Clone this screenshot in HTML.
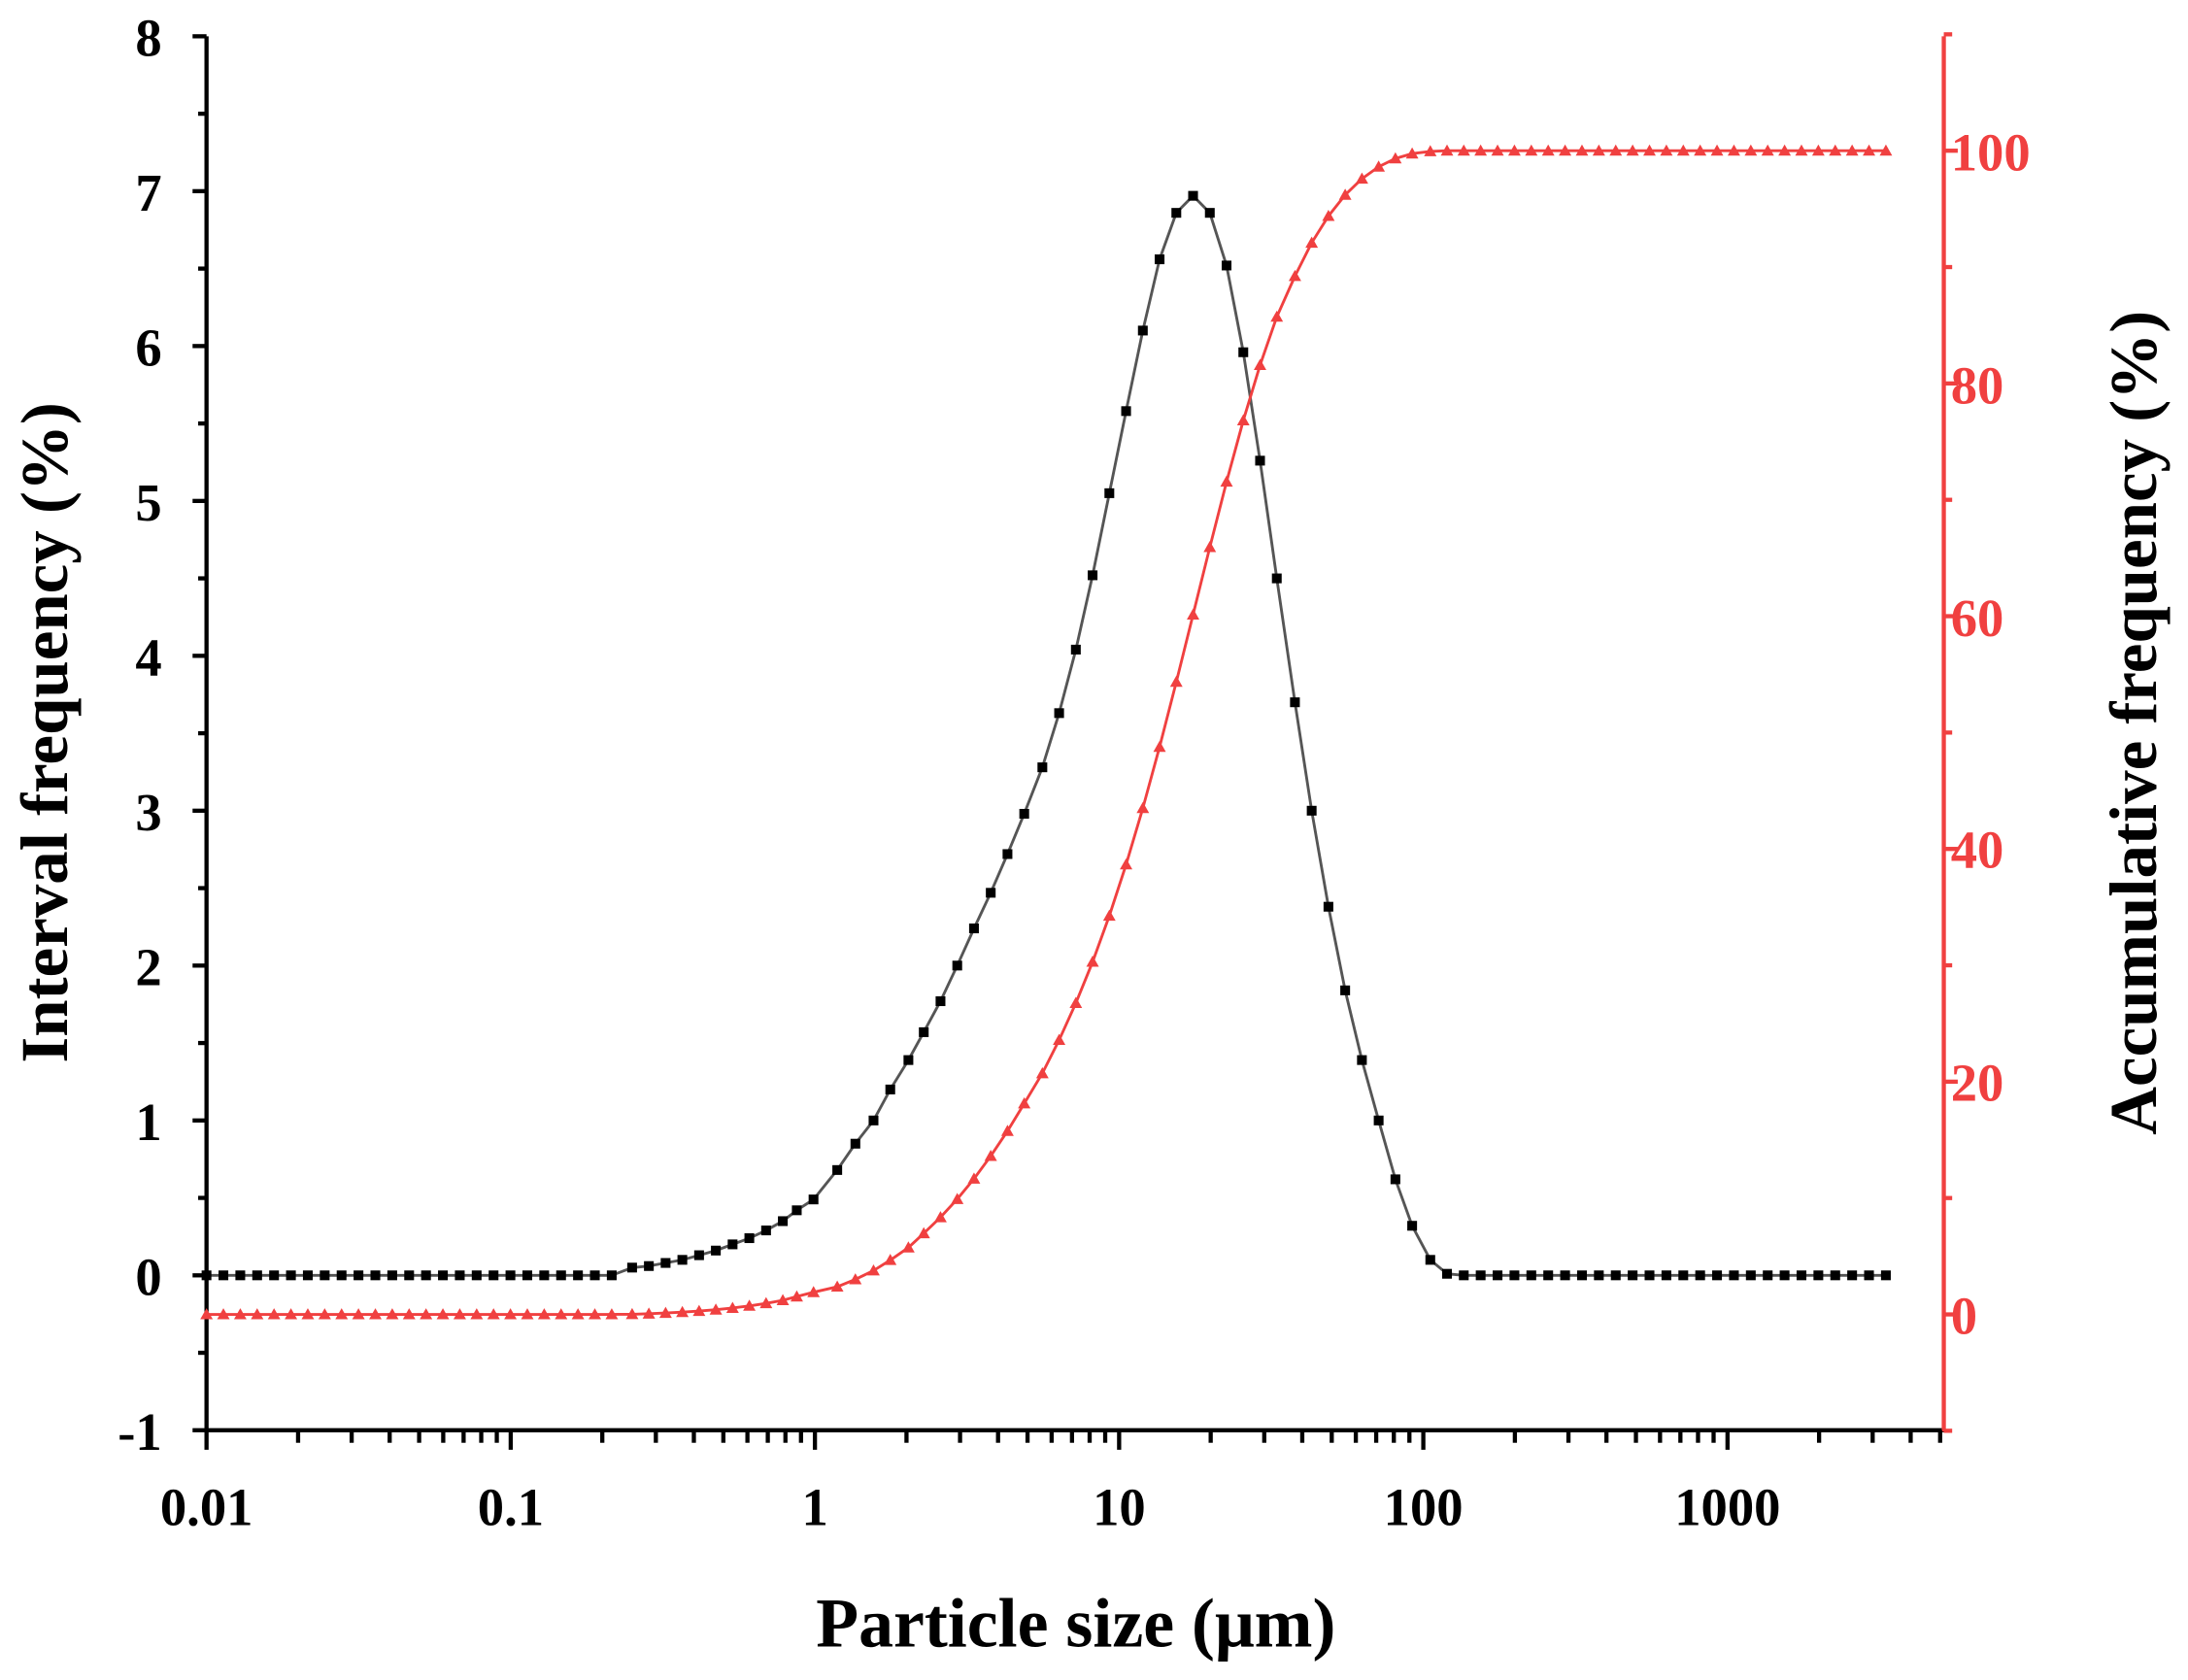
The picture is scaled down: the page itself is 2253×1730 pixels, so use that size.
<!DOCTYPE html>
<html><head><meta charset="utf-8"><style>
html,body{margin:0;padding:0;background:#fff}
svg{display:block}
text{font-family:"Liberation Serif",serif;font-weight:bold}
</style></head><body>
<svg id="s" width="2253" height="1730" viewBox="0 0 1568 1204" xmlns="http://www.w3.org/2000/svg">
<g id="ax" stroke="#000" stroke-width="3" fill="none">
<line x1="148" y1="26" x2="148" y2="1026"/>
<line x1="146.5" y1="1025" x2="1394" y2="1025"/>
</g>
<line x1="1393" y1="26" x2="1393" y2="1026" stroke="#f04040" stroke-width="3"/>
<g id="ticks"></g>
<g font-size="38">
<g text-anchor="end" fill="#000">
<text x="116" y="40">8</text><text x="116" y="151">7</text><text x="116" y="262">6</text><text x="116" y="373">5</text><text x="116" y="484">4</text><text x="116" y="595">3</text><text x="116" y="706">2</text><text x="116" y="817">1</text><text x="116" y="928">0</text><text x="116" y="1039">-1</text>
</g>
<g fill="#f04040">
<text x="1398" y="122">100</text><text x="1398" y="289">80</text><text x="1398" y="456">60</text><text x="1398" y="622">40</text><text x="1398" y="789">20</text><text x="1398" y="956">0</text>
</g>
<g text-anchor="middle">
<text x="148" y="1093">0.01</text><text x="366" y="1093">0.1</text><text x="584" y="1093">1</text><text x="802" y="1093">10</text><text x="1020" y="1093">100</text><text x="1238" y="1093">1000</text>
</g>
</g>
<text x="771" y="1180" font-size="50" text-anchor="middle">Particle size (μm)</text>
<text transform="translate(48,525) rotate(-90)" font-size="48" text-anchor="middle">Interval frequency (%)</text>
<text transform="translate(1545,518) rotate(-90)" font-size="48" text-anchor="middle">Accumulative frequency (%)</text>
<g id="data"></g>
</svg>
<script>
var NS="http://www.w3.org/2000/svg";
function el(t,a,p){var e=document.createElementNS(NS,t);for(var k in a)e.setAttribute(k,a[k]);p.appendChild(e);return e;}
var T=document.getElementById("ticks");
for(var i=0;i<=18;i++){var y=26+i*55.5;var L=(i%2==0)?10:6;el("line",{x1:148-L,y1:y,x2:148,y2:y,stroke:"#000","stroke-width":3},T);}
for(var v=-10;v<=110;v+=10){var y=942-v*8.34;var L=(v%20==0)?10:6;el("line",{x1:1393,y1:y,x2:1393+L,y2:y,stroke:"#f04040","stroke-width":3},T);}
var D=218;
for(var d=-2;d<=3;d++){for(var m=1;m<=9;m++){var x=148+(d+2+Math.log10(m))*D;if(x>1393)break;var L=(m==1)?14:9;el("line",{x1:x,y1:1025,x2:x,y2:1025+L,stroke:"#000","stroke-width":3},T);}}
var K=[[453,0.05],[465,0.06],[477,0.08],[489,0.1],[501,0.13],[513,0.16],[525,0.2],[537,0.24],[549,0.29],[561,0.35],[571,0.42],[583,0.49],[600,0.68],[613,0.85],[626,1.0],[638,1.2],[651,1.39],[662,1.57],[674,1.77],[686,2.0],[698,2.24],[710,2.47],[722,2.72],[734,2.98],[747,3.28],[759,3.63],[771,4.04],[783,4.52],[795,5.05],[807,5.58],[819,6.1],[831,6.56],[843,6.86],[855,6.97],[867,6.86],[879,6.52],[891,5.96],[903,5.26],[915,4.5],[928,3.7],[940,3.0],[952,2.38],[964,1.84],[976,1.39],[988,1.0],[1000,0.62],[1012,0.32],[1025,0.1],[1037,0.01]];
var xs=[],vs=[];
for(var x=148;x<447;x+=12.1){xs.push(x);vs.push(0);}
K.forEach(function(k){xs.push(k[0]);vs.push(k[1]);});
for(var x=1049;x<=1358;x+=12.1){xs.push(x);vs.push(0);}
var sum=0;vs.forEach(function(v){sum+=v;});
var cum=[],c=0;vs.forEach(function(v){c+=v;cum.push((c-v*0.6)/sum*100);});
var G=document.getElementById("data");
var pb=xs.map(function(x,i){return x.toFixed(1)+","+(914-vs[i]*111).toFixed(1);}).join(" ");
var pr=xs.map(function(x,i){return x.toFixed(1)+","+(942-cum[i]*8.34).toFixed(1);}).join(" ");
el("polyline",{points:pb,fill:"none",stroke:"#555","stroke-width":2},G);
el("polyline",{points:pr,fill:"none",stroke:"#f04040","stroke-width":2},G);
xs.forEach(function(x,i){var y=942-cum[i]*8.34;el("polygon",{points:(x-4.5)+","+(y+3.5)+" "+(x+4.5)+","+(y+3.5)+" "+x+","+(y-4.5),fill:"#f04040"},G);});
xs.forEach(function(x,i){var y=914-vs[i]*111;el("rect",{x:x-3.5,y:y-3.5,width:7,height:7,fill:"#000"},G);});
</script>
</body></html>
